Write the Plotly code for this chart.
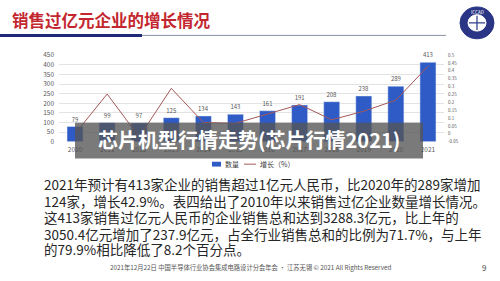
import plotly.graph_objects as go

years = ["2010", "2011", "2012", "2013", "2014", "2015", "2016", "2017", "2018", "2019", "2020", "2021"]
counts = [79, 99, 97, 125, 134, 143, 161, 191, 208, 238, 289, 413]
growth = [0.0, 0.253, -0.02, 0.289, 0.072, 0.067, 0.126, 0.186, 0.089, 0.144, 0.214, 0.429]
left_ticks = [0, 50, 100, 150, 200, 250, 300, 350, 400, 450]
right_ticks = [-0.05, 0, 0.05, 0.1, 0.15, 0.2, 0.25, 0.3, 0.35, 0.4, 0.45, 0.5]
right_labels = ["-0.05", "0", "0.05", "0.1", "0.15", "0.2", "0.25", "0.3", "0.35", "0.4", "0.45", "0.5"]
series_names = ["数量", "增长（%）"]

title_text = "销售过亿元企业的增长情况"
banner_text = "芯片机型行情走势(芯片行情2021)"
body_lines = [
    "2021年预计有413家企业的销售超过1亿元人民币，比2020年的289家增加",
    "124家，增长42.9%。表四给出了2010年以来销售过亿企业数量增长情况。",
    "这413家销售过亿元人民币的企业销售总和达到3288.3亿元，比上年的",
    "3050.4亿元增加了237.9亿元，占全行业销售总和的比例为71.7%，与上年",
    "的79.9%相比降低了8.2个百分点。",
]
footer_text = "2021年12月22日 中国半导体行业协会集成电路设计分会年会 · 江苏无锡 © 2021 All Rights Reserved"
page_no = "9"

W, H = 500, 281
FONT = "Noto Sans CJK SC"
BAR_COLOR = "#2F5BC6"
LINE_COLOR = "#A5585A"

def px(x):
    return x / W

def py(y):
    return 1 - y / H

fig = go.Figure()
fig.add_trace(go.Bar(
    x=years, y=counts, name=series_names[0], width=0.5,
    marker=dict(color=BAR_COLOR),
    text=[str(c) for c in counts], textposition="outside",
    textfont=dict(size=6, color="#595959", family=FONT),
    cliponaxis=False,
))
fig.add_trace(go.Scatter(
    x=years, y=growth, name=series_names[1], yaxis="y2", mode="lines",
    line=dict(color=LINE_COLOR, width=1),
))

fig.update_layout(
    width=W, height=H,
    margin=dict(l=0, r=0, t=0, b=0),
    paper_bgcolor="white", plot_bgcolor="white",
    font=dict(family=FONT, color="#595959"),
    showlegend=False,
    xaxis=dict(domain=[px(59), px(444)], type="category", showgrid=False,
               tickfont=dict(size=6.5, color="#595959"), ticks="", showline=False,
               ticklabelstandoff=3),
    yaxis=dict(domain=[py(140.7), py(51)], range=[0, 450], tickvals=left_ticks,
               showgrid=True, gridcolor="#E3E3E3", gridwidth=0.8, zeroline=False,
               tickfont=dict(size=6.5, color="#595959"), ticklabelstandoff=4),
    yaxis2=dict(overlaying="y", side="right", range=[-0.05, 0.5], tickvals=right_ticks,
                ticktext=right_labels, showgrid=False, zeroline=False,
                tickfont=dict(size=4.5, color="#595959"), ticklabelstandoff=3),
)

shapes = [
    # title underline
    dict(type="line", xref="paper", yref="paper", x0=0, x1=px(142), y0=py(30.5), y1=py(30.5),
         line=dict(color="#1F2A78", width=3)),
    dict(type="line", xref="paper", yref="paper", x0=px(142), x1=px(446), y0=py(30.5), y1=py(30.5),
         line=dict(color="#8A8FA8", width=1)),
    # banner
    dict(type="rect", xref="paper", yref="paper", x0=px(75), x1=px(423), y0=py(158), y1=py(121),
         fillcolor="rgba(85,85,85,0.78)", line=dict(width=0), layer="above"),
    # legend marks
    dict(type="rect", xref="paper", yref="paper", x0=px(212), x1=px(221), y0=py(166.5), y1=py(161.5),
         fillcolor=BAR_COLOR, line=dict(width=0)),
    dict(type="line", xref="paper", yref="paper", x0=px(244), x1=px(256), y0=py(164), y1=py(164),
         line=dict(color=LINE_COLOR, width=1)),
    # logo
    dict(type="circle", xref="paper", yref="paper", x0=px(460), x1=px(494), y0=py(34), y1=py(1),
         fillcolor="#2A3585", line=dict(color="#2A3585", width=1), layer="above"),
    dict(type="circle", xref="paper", yref="paper", x0=px(468), x1=px(486), y0=py(26), y1=py(9),
         fillcolor="white", line=dict(color="white", width=1), layer="above"),
    dict(type="line", xref="paper", yref="paper", x0=px(477), x1=px(477), y0=py(25), y1=py(10),
         line=dict(color="#2A3585", width=1.2), layer="above"),
    dict(type="line", xref="paper", yref="paper", x0=px(469), x1=px(485), y0=py(17.5), y1=py(17.5),
         line=dict(color="#2A3585", width=1.2), layer="above"),
]

annotations = [
    dict(text="<b>" + title_text + "</b>", xref="paper", yref="paper", x=px(10), y=py(14),
         xanchor="left", yanchor="middle", showarrow=False,
         font=dict(size=16.5, color="#C3262E", family=FONT)),
    dict(text="<b>" + banner_text + "</b>", xref="paper", yref="paper", x=px(249), y=py(138),
         xanchor="center", yanchor="middle", showarrow=False,
         font=dict(size=20, color="white", family=FONT)),
    dict(text=series_names[0], xref="paper", yref="paper", x=px(223), y=py(164),
         xanchor="left", yanchor="middle", showarrow=False,
         font=dict(size=7, color="#404040", family=FONT)),
    dict(text=series_names[1], xref="paper", yref="paper", x=px(258), y=py(164),
         xanchor="left", yanchor="middle", showarrow=False,
         font=dict(size=7, color="#404040", family=FONT)),
    dict(text="ICCAD", xref="paper", yref="paper", x=px(477), y=py(6), xanchor="center",
         yanchor="middle", showarrow=False, font=dict(size=4.5, color="white", family=FONT)),
    dict(text=footer_text, xref="paper", yref="paper", x=px(250), y=py(271), xanchor="center",
         yanchor="middle", showarrow=False, font=dict(size=6.3, color="#555555", family=FONT)),
    dict(text=page_no, xref="paper", yref="paper", x=px(484), y=py(271), xanchor="center",
         yanchor="middle", showarrow=False, font=dict(size=8, color="#444444", family=FONT)),
]
line_ys = [185, 202, 219, 236, 252]
for t, yy in zip(body_lines, line_ys):
    annotations.append(dict(text=t, xref="paper", yref="paper", x=px(42), y=py(yy),
                            xanchor="left", yanchor="middle", showarrow=False,
                            font=dict(size=13.5, color="#262626", family=FONT)))

fig.update_layout(shapes=shapes, annotations=annotations)
fig.write_html("out.html")
